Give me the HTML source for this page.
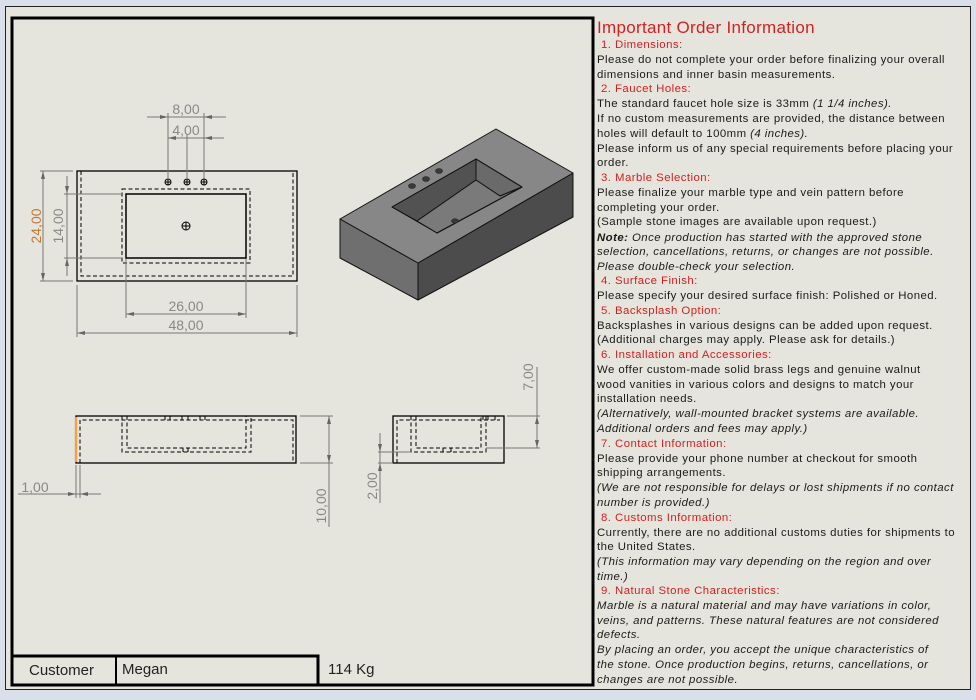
<!DOCTYPE html>
<html><head><meta charset="utf-8"><style>
html,body{margin:0;padding:0;}
body{width:976px;height:700px;background:#d9e0e9;position:relative;overflow:hidden;font-family:"Liberation Sans",sans-serif;}
#sheet{position:absolute;left:5px;top:6px;width:966px;height:684px;background:#e6e5dd;border:1px solid #222;box-sizing:border-box;}
#txt{position:absolute;left:597px;top:1px;width:375px;}
#txt div{position:absolute;left:0;white-space:nowrap;font-size:11.4px;color:#1a1a1a;line-height:14px;letter-spacing:0.45px;}
#txt div.r{color:#d42020;left:4px;}
#txt div.i{font-style:italic;}
#txt .t{font-size:17px;color:#d42020;line-height:20px;letter-spacing:0.3px;}
svg{position:absolute;left:0;top:0;}
</style></head><body>
<div id="sheet"></div>
<svg width="976" height="700" viewBox="0 0 976 700" font-family="Liberation Sans, sans-serif">
<path d="M12 685 V18 H593 V685 Z" fill="none" stroke="#000" stroke-width="3"/>
<path d="M12 656 H318 V685" fill="none" stroke="#000" stroke-width="3"/>
<line x1="116" y1="656" x2="116" y2="685" stroke="#000" stroke-width="2"/>
<text x="29" y="675" font-size="15" fill="#222">Customer</text>
<text x="122" y="674" font-size="15" fill="#222">Megan</text>
<text x="328" y="674" font-size="15" fill="#222">114 Kg</text>

<g stroke="#000" fill="none">
<rect x="77" y="171" width="220" height="110" stroke-width="1.3"/>
<path d="M81 171 V276 H293 V171" stroke-dasharray="4,2.5"/>
<rect x="122" y="189" width="128" height="74" stroke-dasharray="4,2.5"/>
<rect x="126" y="194" width="120" height="64" stroke-width="1.5"/>
<rect x="76" y="416" width="220" height="47" stroke-width="1.3"/>
<path d="M80 463 V420 H293 V463" stroke-dasharray="4,2.5"/>
<path d="M122 416 V452 H251 V416" stroke-dasharray="4,2.5"/>
<path d="M127 416 V448 H246 V416" stroke-dasharray="4,2.5"/>
<path d="M165 416v4M170 416v4M182 416v4M188 416v4M200 416v4M205 416v4M183 448v4M188 448v4" />
<rect x="393" y="416" width="111" height="47" stroke-width="1.3"/>
<path d="M397 463 V420 H500" stroke-dasharray="4,2.5"/>
<path d="M411 416 V452 H486 V416" stroke-dasharray="4,2.5"/>
<path d="M416 416 V448 H481 V416" stroke-dasharray="4,2.5"/>
<path d="M483 416v4M488 416v4M495 416v4M443 448v4M451 448v4"/>
</g>
<line x1="76" y1="417" x2="76" y2="462" stroke="#f0a050" stroke-width="2.5"/>
<g stroke="#000" fill="none" stroke-width="1">
<circle cx="168" cy="182" r="3"/><path d="M165 182h6M168 179v6"/>
<circle cx="187" cy="182" r="3"/><path d="M184 182h6M187 179v6"/>
<circle cx="204" cy="182" r="3"/><path d="M201 182h6M204 179v6"/>
<circle cx="186" cy="226" r="4"/><path d="M182 226h8M186 222v8"/>
</g>
<g stroke="#777" stroke-width="1" fill="none">
<path d="M168 113V178M204 113V178M187 134V178M147 117H226M168 138H224"/>
<path d="M40 171H73M40 281H73M43 171V281"/>
<path d="M64 194H122M64 258H122M67 176V276"/>
<path d="M126 259V318M246 259V318M126 314H246"/>
<path d="M77 285V337M297 285V337M77 333H297"/>
<path d="M300 416H333M300 463H333M329 416V527"/>
<path d="M76 465V498M80 465V498M18 494H101"/>
<path d="M507 416H540M486 448H540M537 367V448"/>
<path d="M378 452H411M378 463H393M380 433V503"/>
</g>
<g fill="#666">
<path d="M168 117l-8-2v4zM204 117l8-2v4zM168 138l8-2v4zM204 138l8-2v4z"/>
<path d="M43 171l-2 8h4zM43 281l-2-8h4zM67 194l-2-8h4zM67 258l-2 8h4z"/>
<path d="M126 314l8-2v4zM246 314l-8-2v4zM77 333l8-2v4zM297 333l-8-2v4z"/>
<path d="M329 416l-2 8h4zM329 463l-2-8h4zM76 494l-8-2v4zM80 494l8-2v4z"/>
<path d="M537 416l-2 8h4zM537 448l-2-8h4zM380 452l-2-8h4zM380 463l-2 8h4z"/>
</g>
<g font-size="14" fill="#888" text-anchor="middle">
<text x="186" y="114">8,00</text>
<text x="186" y="135">4,00</text>
<text x="186" y="311">26,00</text>
<text x="186" y="330">48,00</text>
<text x="35" y="492">1,00</text>
<text transform="translate(63,226) rotate(-90)">14,00</text>
<text transform="translate(41,226) rotate(-90)" fill="#c07a30">24,00</text>
<text transform="translate(326,506) rotate(-90)">10,00</text>
<text transform="translate(533,377) rotate(-90)">7,00</text>
<text transform="translate(377,486) rotate(-90)">2,00</text>
</g>
<g stroke="#111" stroke-width="1" stroke-linejoin="round">
<polygon points="340,219 418,263 418,300 340,258" fill="#6f6f6f"/>
<polygon points="418,263 573,173 573,217 418,300" fill="#4c4c4c"/>
<polygon points="340,219 496,129 573,173 418,263" fill="#878787"/>
<polygon points="392,207 476,159 476,180 417,221" fill="#525252"/>
<polygon points="476,159 522,187 500,196 476,180" fill="#6a6a6a"/>
<polygon points="417,221 476,180 500,196 522,187 437,233" fill="#7a7a7a"/>
<polygon points="392,207 476,159 522,187 437,233" fill="none"/>
</g>
<g fill="#3a3a3a" stroke="#222" stroke-width="0.6">
<ellipse cx="412" cy="186" rx="3.5" ry="2.5"/><ellipse cx="426" cy="179" rx="3.5" ry="2.5"/><ellipse cx="439" cy="171" rx="3.5" ry="2.5"/>
<ellipse cx="455" cy="221" rx="3.5" ry="2.2"/>
</g>
</svg>
<div id="txt">
<div class="t" style="top:17px;left:0">Important Order Information</div>
<div class="r" style="top:37px">1. Dimensions:</div>
<div style="top:52px">Please do not complete your order before finalizing your overall</div>
<div style="top:67px">dimensions and inner basin measurements.</div>
<div class="r" style="top:81px">2. Faucet Holes:</div>
<div style="top:96px">The standard faucet hole size is 33mm <i>(1 1/4 inches).</i></div>
<div style="top:111px">If no custom measurements are provided, the distance between</div>
<div style="top:126px">holes will default to 100mm <i>(4 inches).</i></div>
<div style="top:141px">Please inform us of any special requirements before placing your</div>
<div style="top:155px">order.</div>
<div class="r" style="top:170px">3. Marble Selection:</div>
<div style="top:185px">Please finalize your marble type and vein pattern before</div>
<div style="top:200px">completing your order.</div>
<div style="top:214px">(Sample stone images are available upon request.)</div>
<div class="i" style="top:230px"><b>Note:</b> Once production has started with the approved stone</div>
<div class="i" style="top:244px">selection, cancellations, returns, or changes are not possible.</div>
<div class="i" style="top:259px">Please double-check your selection.</div>
<div class="r" style="top:273px">4. Surface Finish:</div>
<div style="top:288px">Please specify your desired surface finish: Polished or Honed.</div>
<div class="r" style="top:303px">5. Backsplash Option:</div>
<div style="top:318px">Backsplashes in various designs can be added upon request.</div>
<div style="top:332px">(Additional charges may apply. Please ask for details.)</div>
<div class="r" style="top:347px">6. Installation and Accessories:</div>
<div style="top:362px">We offer custom-made solid brass legs and genuine walnut</div>
<div style="top:377px">wood vanities in various colors and designs to match your</div>
<div style="top:391px">installation needs.</div>
<div class="i" style="top:406px">(Alternatively, wall-mounted bracket systems are available.</div>
<div class="i" style="top:421px">Additional orders and fees may apply.)</div>
<div class="r" style="top:436px">7. Contact Information:</div>
<div style="top:451px">Please provide your phone number at checkout for smooth</div>
<div style="top:465px">shipping arrangements.</div>
<div class="i" style="top:480px">(We are not responsible for delays or lost shipments if no contact</div>
<div class="i" style="top:495px">number is provided.)</div>
<div class="r" style="top:510px">8. Customs Information:</div>
<div style="top:525px">Currently, there are no additional customs duties for shipments to</div>
<div style="top:539px">the United States.</div>
<div class="i" style="top:554px">(This information may vary depending on the region and over</div>
<div class="i" style="top:569px">time.)</div>
<div class="r" style="top:583px">9. Natural Stone Characteristics:</div>
<div class="i" style="top:598px">Marble is a natural material and may have variations in color,</div>
<div class="i" style="top:613px">veins, and patterns. These natural features are not considered</div>
<div class="i" style="top:627px">defects.</div>
<div class="i" style="top:642px">By placing an order, you accept the unique characteristics of</div>
<div class="i" style="top:657px">the stone. Once production begins, returns, cancellations, or</div>
<div class="i" style="top:672px">changes are not possible.</div>
</div>
</body></html>
